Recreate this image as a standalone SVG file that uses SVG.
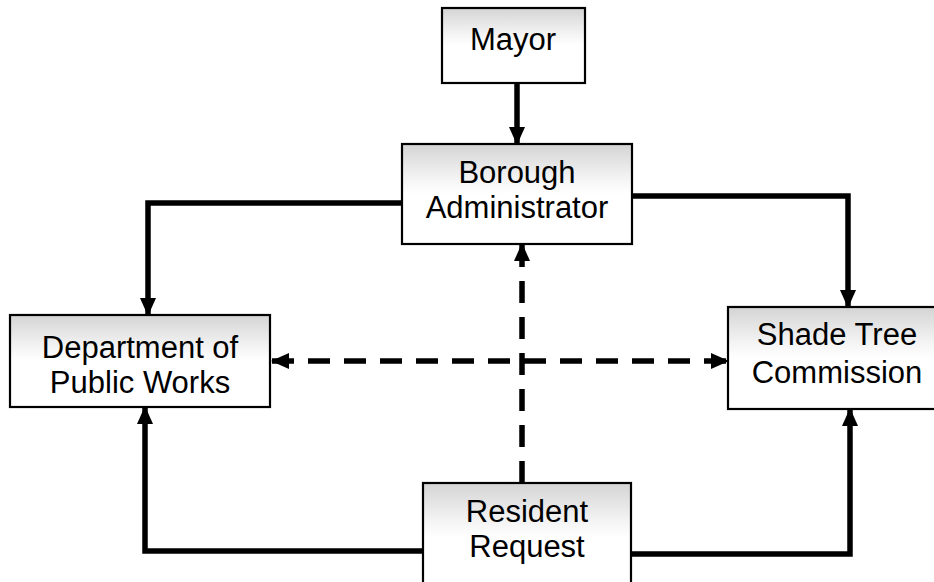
<svg xmlns="http://www.w3.org/2000/svg" width="934" height="582" viewBox="0 0 934 582">
  <style>
    .box { stroke: #000; stroke-width: 2.2; fill: url(#shade); }
    .lbl { font-family: "Liberation Sans", Arial, sans-serif; font-size: 31px; fill: #000; text-anchor: middle; }
    .solid { fill: none; stroke: #000; stroke-width: 5.5; stroke-linejoin: miter; marker-end: url(#ah); }
    .dash { fill: none; stroke: #000; stroke-width: 5.5; stroke-dasharray: 22 14; }
  </style>
  <defs>
    <linearGradient id="shade" x1="0" y1="0" x2="0" y2="1">
      <stop offset="0" stop-color="#d4d4d4"/>
      <stop offset="0.35" stop-color="#f4f4f4"/>
      <stop offset="0.5" stop-color="#ffffff"/>
      <stop offset="1" stop-color="#ffffff"/>
    </linearGradient>
    <marker id="ah" viewBox="0 0 18 16" refX="17" refY="8" markerWidth="18" markerHeight="16" markerUnits="userSpaceOnUse" orient="auto">
      <path d="M0,0 L18,8 L0,16 z" fill="#000"/>
    </marker>
    <marker id="ahs" viewBox="0 0 18 16" refX="17" refY="8" markerWidth="18" markerHeight="16" markerUnits="userSpaceOnUse" orient="auto-start-reverse">
      <path d="M0,0 L18,8 L0,16 z" fill="#000"/>
    </marker>
  </defs>
  <rect width="934" height="582" fill="#fff"/>

  <g id="connectors">
    <path class="solid" d="M517,83 V144"/>
    <path class="solid" d="M402,203 H148 V315"/>
    <path class="solid" d="M632,196 H848 V307"/>
    <path class="solid" d="M423,551 H145 V407"/>
    <path class="solid" d="M631,554 H850 V409"/>
    <path class="dash" d="M522,483 V244" marker-end="url(#ah)"/>
    <path class="dash" d="M272,361 H728" marker-start="url(#ahs)" marker-end="url(#ahs)"/>
  </g>

  <g id="mayor">
    <rect class="box" x="442" y="8" width="143" height="75"/>
    <text class="lbl" x="513" y="50">Mayor</text>
  </g>
  <g id="borough-administrator">
    <rect class="box" x="402" y="144" width="230" height="100"/>
    <text class="lbl" x="517" y="183">Borough</text>
    <text class="lbl" x="517" y="218">Administrator</text>
  </g>
  <g id="department-of-public-works">
    <rect class="box" x="10" y="315" width="260" height="92"/>
    <text class="lbl" x="140" y="358">Department of</text>
    <text class="lbl" x="140" y="393">Public Works</text>
  </g>
  <g id="shade-tree-commission">
    <rect class="box" x="728" y="307" width="218" height="102"/>
    <text class="lbl" x="837" y="345">Shade Tree</text>
    <text class="lbl" x="837" y="383">Commission</text>
  </g>
  <g id="resident-request">
    <rect class="box" x="423" y="483" width="208" height="110"/>
    <text class="lbl" x="527" y="522">Resident</text>
    <text class="lbl" x="527" y="557">Request</text>
  </g>
</svg>
